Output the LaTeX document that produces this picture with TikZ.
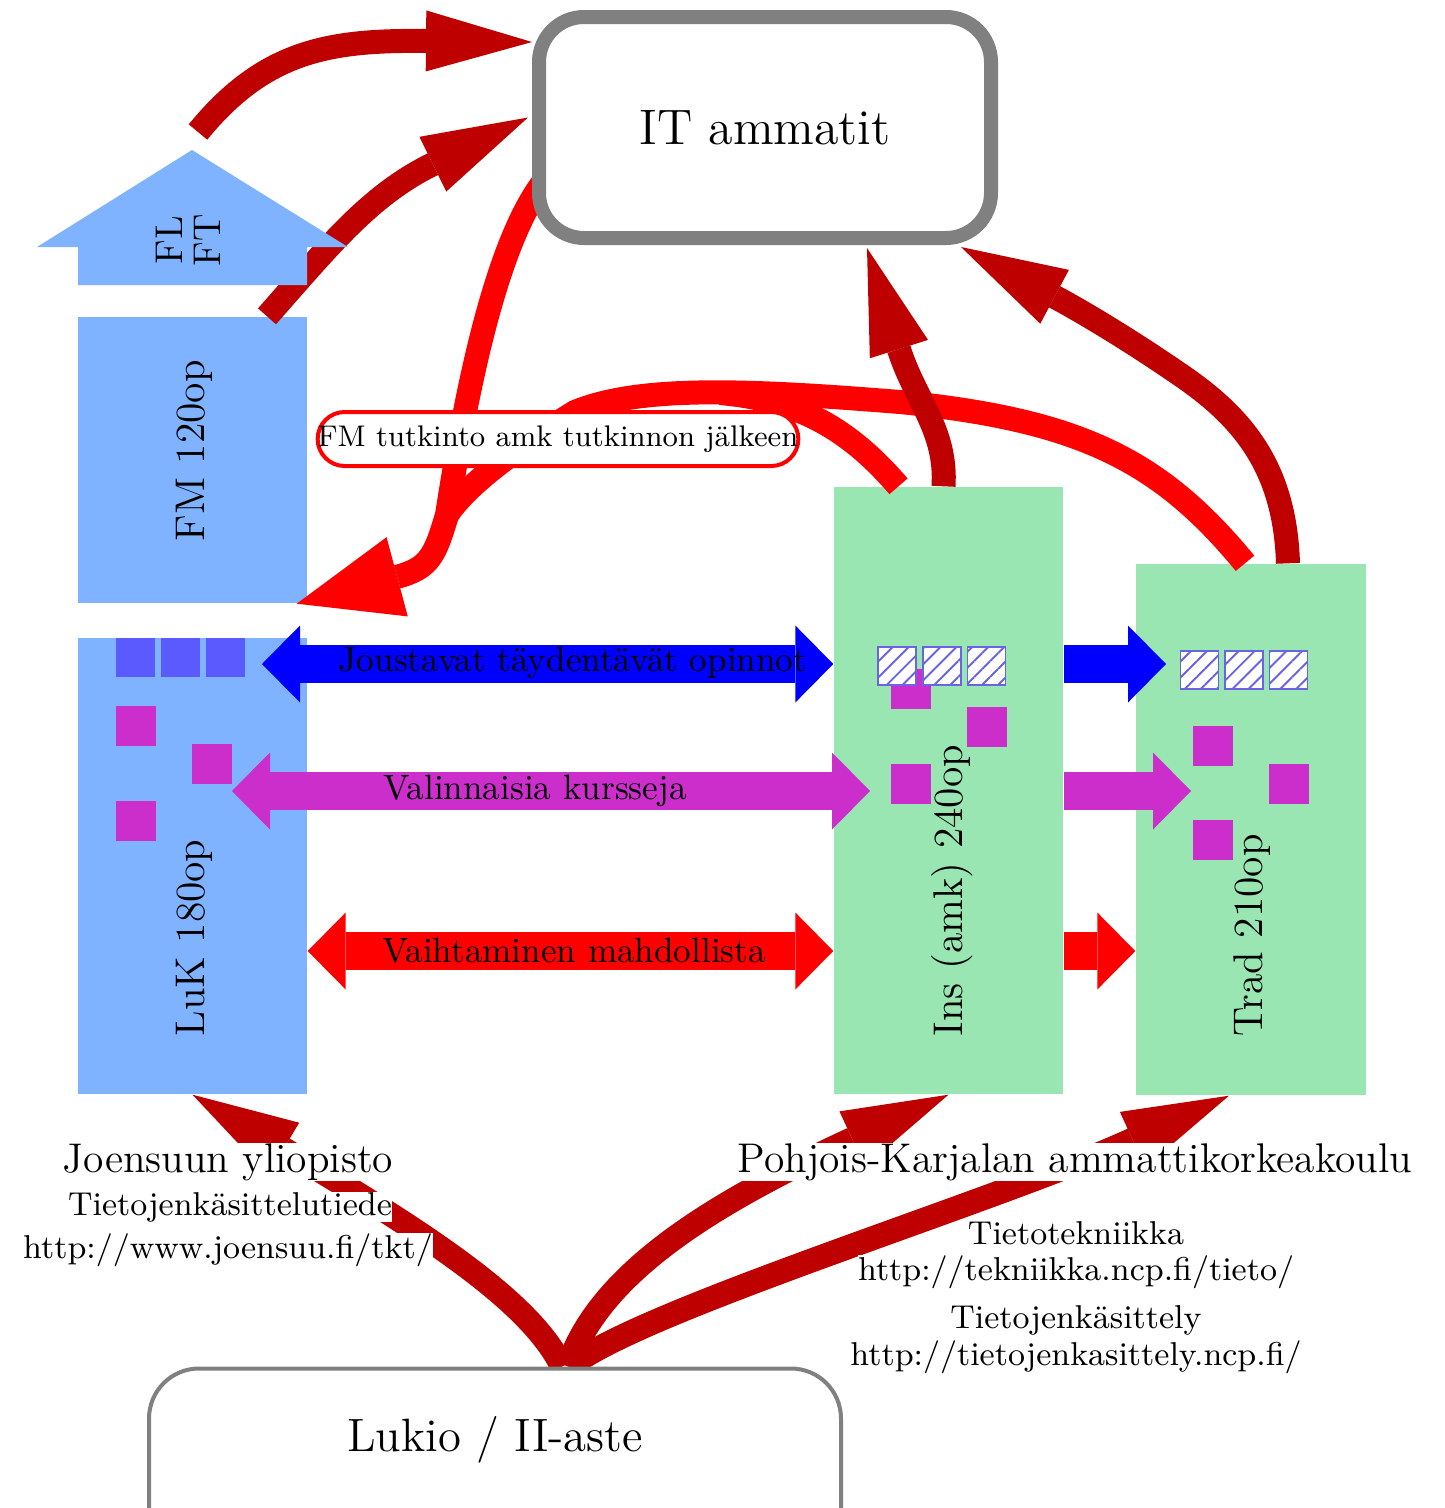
\documentclass[tikz,border=0pt]{standalone}
\usepackage{tikz}
\usetikzlibrary{arrows.meta,patterns.meta}
\definecolor{unicol}{RGB}{128,179,255}
\definecolor{amkcol}{RGB}{153,230,179}
\definecolor{optcol}{RGB}{90,90,255}
\definecolor{kurcol}{RGB}{204,46,204}
\definecolor{ammred}{RGB}{190,0,0}
\definecolor{hatchcol}{RGB}{105,100,225}
\newcommand{\fsz}[1]{\fontsize{#1}{#1}\selectfont}
\pgfdeclarelayer{front}
\pgfsetlayers{main,front}

\begin{document}
\begin{tikzpicture}[
		x=0.1mm, y=-0.1mm,
		uni/.style={fill=unicol, inner sep=0pt, minimum width=22.9mm},
		amk/.style={fill=amkcol, inner sep=0pt, minimum width=22.9mm},
		boxtext/.style={rotate=90, anchor=west, inner sep=0pt, font=\fsz{11.8}},
		kurssi/.style={fill=kurcol, inner sep=0pt, minimum size=4mm},
		opinto/.style={fill=optcol, inner sep=0pt, minimum size=3.9mm},
		vapaa/.style={draw=hatchcol, fill=white, inner sep=0pt, minimum size=3.8mm,
			postaction={pattern={Lines[angle=45,distance=3.2pt,line width=0.55pt]}, pattern color=hatchcol}},
		flow/.style={>={Triangle[length=3.8mm,width=7.7mm,line width=0pt]}, line width=3.8mm},
		route/.style={>={Triangle[length=10.6mm,width=6.1mm,line width=0pt]}, draw=ammred, line width=2.4mm, ->},
		jatko/.style={>={Triangle[length=10.4mm,width=8.2mm,line width=0pt]}, draw=red, line width=2.4mm},
		itbox/.style={draw=gray, line width=1.4mm, rounded corners=4.5mm, fill=white,
			minimum width=45.2mm, minimum height=22.1mm, font=\fsz{14.2}},
		lukiobox/.style={draw=gray, line width=0.4mm, rounded corners=5mm, fill=white,
			minimum width=69.2mm, minimum height=19.1mm, inner sep=0pt},
		site/.style={fill=white, inner sep=0pt}
		]
		\useasboundingbox (0,0) rectangle (1445,1508);
		\begin{pgfonlayer}{front}
			\node[itbox] (it) at (765,127.5) {IT ammatit};
			\node[lukiobox] (lukio) at (495,1464) {};
			\node[font=\fsz{13.3}] (lukiotxt) at (495,1440) {Lukio / II-aste};
		\end{pgfonlayer}

		\node[uni, minimum height=28.6mm] (fm) at (192.5,460) {};
		\node[uni, minimum height=45.6mm] (luk) at (192.5,866) {};
		\node[amk, minimum height=60.7mm] (ins) at (948.5,790.5) {};
		\node[amk, minimum height=53.1mm, minimum width=23mm] (trad) at (1251,829.5) {};

		\node[opinto] (o1) at (135.5,657.5) {};
		\node[opinto] (o2) at (180.5,657.5) {};
		\node[opinto] (o3) at (225.5,657.5) {};
		\node[kurssi] (k1) at (136,726) {};
		\node[kurssi] (k2) at (212,764) {};
		\node[kurssi] (k3) at (136,821) {};
		\node[kurssi] (k4) at (911,689) {};
		\node[kurssi] (k5) at (986.5,727) {};
		\node[kurssi] (k6) at (911,783.5) {};
		\node[kurssi] (k7) at (1213,746) {};
		\node[kurssi] (k8) at (1289,783.5) {};
		\node[kurssi] (k9) at (1213,840) {};
		\node[vapaa] (v1) at (897,666) {};
		\node[vapaa] (v2) at (942,666) {};
		\node[vapaa] (v3) at (986.5,666) {};
		\node[vapaa] (v4) at (1199.5,670) {};
		\node[vapaa] (v5) at (1244,670) {};
		\node[vapaa] (v6) at (1288.5,670) {};

		\coordinate (jl) at (262,664);
		\coordinate (jr) at (1166,664);
		\coordinate (vl) at (232,791);
		\coordinate (vr) at (870,791);
		\coordinate (vs) at (1191,791);
		\coordinate (ml) at (307,951);
		\draw[flow, draw=blue, <->] (jl) -- (ins.west |- jl);
		\draw[flow, draw=blue, ->] (ins.east |- jr) -- (jr);
		\draw[flow, draw=kurcol, <->] (vl) -- (vr);
		\draw[flow, draw=kurcol, ->] (ins.east |- vs) -- (vs);
		\draw[flow, draw=red, <->] (luk.east |- ml) -- (ins.west |- ml);
		\draw[flow, draw=red, ->] (ins.east |- ml) -- (trad.west |- ml);
		\node[font=\fsz{10}] (joustavat) at (573,663) {Joustavat täydentävät opinnot};
		\node[font=\fsz{10}] (valinnaiset) at (535,791) {Valinnaisia kursseja};
		\node[font=\fsz{10}] (vaihto) at (574,951) {Vaihtaminen mahdollista};

		\coordinate (jn) at (447,515);
		\draw[jatko] ([xshift=-0.6mm]trad.north) .. controls (1160,460) and (1080,420) .. (900,402)
			.. controls (750,390) and (640,385) .. (575,412) .. controls (530,440) and (470,480) .. (jn);
		\draw[jatko] ([xshift=-5mm]ins.north) .. controls (850,430) and (800,400) .. (720,393);
		\draw[jatko, ->] ([xshift=1.5mm,yshift=-5mm]it.west) .. controls (495,240) and (465,400) .. (jn)
			.. controls (435,555) and (430,568) .. ([xshift=-1.1mm]fm.south east);

		\coordinate (flstart) at (198,132);
		\draw[route] (flstart) .. controls (265,50) and (330,40) .. ([yshift=-3.2mm]it.north west);
		\draw[route] ([xshift=7.45mm]fm.north) .. controls (330,245) and (370,195) .. ([xshift=-0.4mm,yshift=1mm]it.west);
		\draw[route] ([xshift=-0.5mm]ins.north) .. controls (947,430) and (915,400) .. ([xshift=10.2mm,yshift=-0.3mm]it.south);
		\draw[route] ([xshift=3.7mm]trad.north) .. controls (1285,470) and (1245,420) .. (1185,378)
			.. controls (1120,333) and (1070,305) .. ([xshift=-3.7mm,yshift=-0.2mm]it.south east);
		\draw[route] ([xshift=6.7mm]lukio.north) .. controls (530,1300) and (420,1230) .. (luk.south);
		\draw[route] ([xshift=7.3mm]lukio.north) .. controls (600,1270) and (720,1200) .. (ins.south);
		\draw[route] ([xshift=7.5mm]lukio.north) .. controls (640,1310) and (1000,1200) .. ([xshift=-2.2mm]trad.south);

		\fill[unicol] (192,150) -- (348,247) -- (307,247) -- (307,285) -- (78,285) -- (78,247) -- (37,247) -- cycle;
		\node[rotate=90, align=center, font=\fontsize{11}{10.8}\selectfont] (flft) at (188,240) {FL\\FT};

		\node[draw=red, line width=0.4mm, fill=white, rounded corners=2.7mm, minimum width=47.2mm,
			minimum height=5.4mm, inner sep=0pt, font=\fsz{8.5}] (fmamk) at (558,439) {FM tutkinto amk tutkinnon jälkeen};

		\node[boxtext] (fmtxt) at (194,542) {FM 120op};
		\node[boxtext] (luktxt) at (194,1037) {LuK 180op};
		\node[boxtext] (instxt) at (952,1037) {Ins (amk) 240op};
		\node[boxtext] (tradtxt) at (1252,1037) {Trad 210op};

		\node[site, font=\fsz{11.8}] (joensuu) at (228,1162) {Joensuun yliopisto};
		\node[site, font=\fsz{9.4}] (tkt) at (230,1207) {Tietojenkäsittelutiede};
		\node[site, font=\fsz{9.4}] (tkturl) at (228,1250) {http://www.joensuu.fi/tkt/};
		\node[site, font=\fsz{11.8}] (pkamk) at (1075,1162) {Pohjois-Karjalan ammattikorkeakoulu};
		\node[site, font=\fsz{9.4}] (tieto) at (1076,1233) {Tietotekniikka};
		\node[site, font=\fsz{9.4}] (tietourl) at (1076,1272) {http://tekniikka.ncp.fi/tieto/};
		\node[site, font=\fsz{9.4}] (tk) at (1076,1320) {Tietojenkäsittely};
		\node[site, font=\fsz{9.4}] (tkurl) at (1076,1357) {http://tietojenkasittely.ncp.fi/};
	\end{tikzpicture}
\end{document}
